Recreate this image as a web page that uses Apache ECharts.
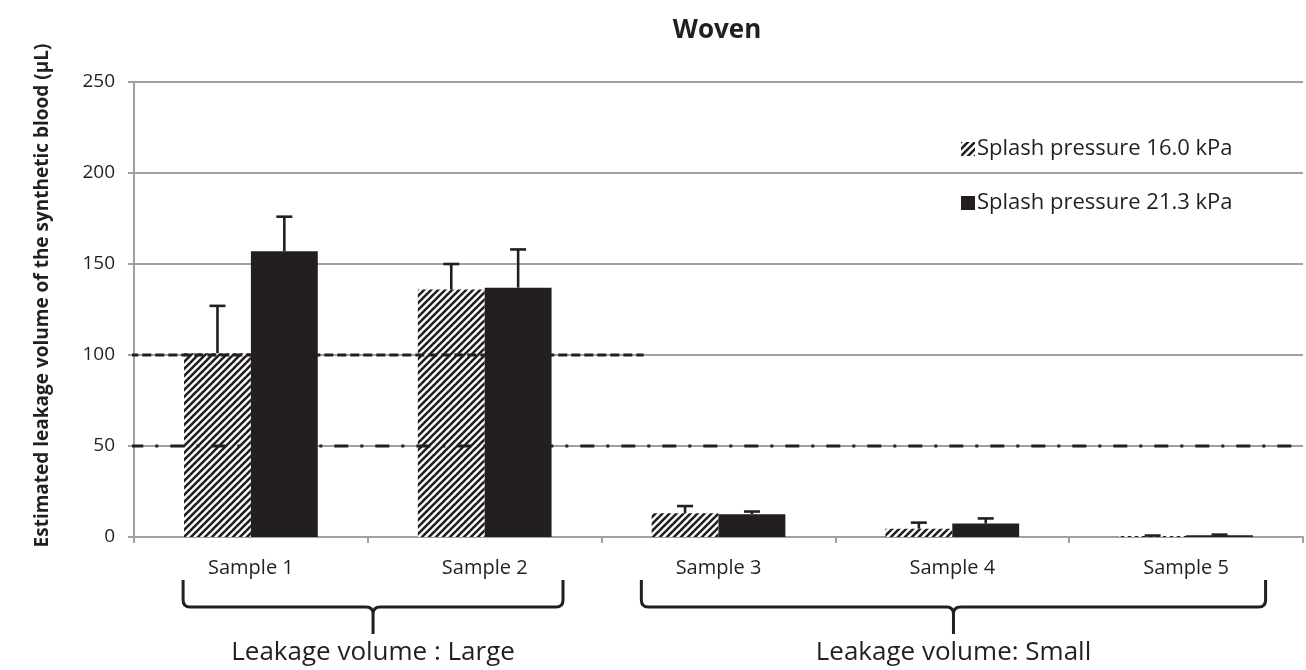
<!DOCTYPE html>
<html>
<head>
<meta charset="utf-8">
<script src="https://cdn.jsdelivr.net/npm/echarts@6/dist/echarts.min.js"></script>
<style>html,body{margin:0;padding:0;background:#fff;}#c{width:1306px;height:670px;}</style>
</head>
<body>
<div id="c"></div>
<script>
// ---- data ----
const categories = ['Sample 1', 'Sample 2', 'Sample 3', 'Sample 4', 'Sample 5'];
const seriesNames = ['Splash pressure 16.0 kPa', 'Splash pressure 21.3 kPa'];
const values16 = [101, 136, 13, 4.6, 0.5];
const errors16 = [26, 14, 4, 3.3, 0.3];
const values213 = [157, 137, 12.5, 7.4, 1.0];
const errors213 = [19, 21, 1.5, 2.8, 0.3];
const yTicks = [0, 50, 100, 150, 200, 250];
const refValues = [100, 50];
const refExtents = [[-0.52, 1.68], [-0.52, 4.47]];
const groupLabels = ['Leakage volume : Large', 'Leakage volume: Small'];
const groupSpans = [[-0.29, 1.335], [1.67, 4.34]];
const titleText = 'Woven';
const yName = 'Estimated leakage volume of the synthetic blood (\u03bcL)';

// ---- styling ----
const INK = '#231f20';
const GRID = '#a0a0a0';
const FONT = 'Open Sans';
const BAR_FRAC = 0.286;

function hatch() {
  const c = document.createElement('canvas');
  c.width = 7; c.height = 7;
  const ctx = c.getContext('2d');
  ctx.fillStyle = '#fff';
  ctx.fillRect(0, 0, 7, 7);
  ctx.strokeStyle = INK;
  ctx.lineWidth = 2.6;
  [-7, 0, 7].forEach(k => {
    ctx.beginPath();
    ctx.moveTo(k - 1, 8);
    ctx.lineTo(k + 8, -1);
    ctx.stroke();
  });
  return c;
}
const hatchFill = { image: hatch(), repeat: 'repeat' };

function errorSeries(values, errors, side) {
  return {
    type: 'custom',
    xAxisIndex: 0, yAxisIndex: 0,
    silent: true, z: 6,
    data: values.map((v, i) => [i, v, v + errors[i]]),
    renderItem: function (params, api) {
      const band = api.size([1, 0])[0];
      const off = side * band * BAR_FRAC / 2;
      const p0 = api.coord([api.value(0), api.value(1)]);
      const p1 = api.coord([api.value(0), api.value(2)]);
      const x = p0[0] + off;
      const st = { stroke: INK, lineWidth: 2.6 };
      return {
        type: 'group',
        children: [
          { type: 'line', shape: { x1: x, y1: p0[1], x2: x, y2: p1[1] }, style: st },
          { type: 'line', shape: { x1: x - 8, y1: p1[1], x2: x + 8, y2: p1[1] }, style: st }
        ]
      };
    }
  };
}

const refStyles = [
  { color: INK, width: 3, type: [9, 4] },
  { color: INK, width: 3, type: [14, 12, 3, 12] }
];

const refSeries = refValues.map((v, i) => ({
  type: 'line',
  xAxisIndex: 1, yAxisIndex: 0,
  silent: true, z: 5,
  symbol: 'none',
  lineStyle: refStyles[i],
  data: [[refExtents[i][0], v], [refExtents[i][1], v]]
}));

const bracketSeries = {
  type: 'custom',
  xAxisIndex: 1, yAxisIndex: 0,
  silent: true, clip: false, z: 7,
  data: groupSpans.map((s, i) => [s[0], s[1], i]),
  renderItem: function (params, api) {
    const a = api.coord([api.value(0), 0]);
    const b = api.coord([api.value(1), 0]);
    const i = api.value(2);
    const y0 = a[1];
    const xL = a[0], xR = b[0], xM = (xL + xR) / 2;
    const yT = y0 + 43, yH = y0 + 70, yTip = y0 + 97, r = 7;
    const d = 'M' + xL + ' ' + yT + ' L' + xL + ' ' + (yH - r) +
      ' Q' + xL + ' ' + yH + ' ' + (xL + r) + ' ' + yH +
      ' L' + (xM - r) + ' ' + yH +
      ' Q' + xM + ' ' + yH + ' ' + xM + ' ' + (yH + r) +
      ' L' + xM + ' ' + yTip +
      ' M' + xM + ' ' + (yH + r) +
      ' Q' + xM + ' ' + yH + ' ' + (xM + r) + ' ' + yH +
      ' L' + (xR - r) + ' ' + yH +
      ' Q' + xR + ' ' + yH + ' ' + xR + ' ' + (yH - r) +
      ' L' + xR + ' ' + yT;
    return {
      type: 'group',
      children: [
        { type: 'path', shape: { pathData: d }, style: { stroke: INK, lineWidth: 3, fill: null } },
        { type: 'text', x: xM, y: y0 + 116,
          style: { text: groupLabels[i], fill: INK, font: '26px "' + FONT + '"', align: 'center', verticalAlign: 'middle' } }
      ]
    };
  }
};

const chart = echarts.init(document.getElementById('c'), null, { renderer: 'canvas' });
chart.setOption({
  animation: false,
  backgroundColor: '#fff',
  title: {
    text: titleText, left: 712, top: 13, textAlign: 'center',
    textStyle: { fontFamily: FONT, fontWeight: 'bold', fontSize: 26, color: INK }
  },
  legend: {
    data: seriesNames,
    orient: 'vertical',
    left: 956, top: 133,
    itemWidth: 14, itemHeight: 14, itemGap: 32,
    icon: 'rect',
    textStyle: { fontFamily: FONT, fontSize: 22, color: INK, padding: [0, 0, 0, -3] }
  },
  grid: { left: 134, right: 3, top: 82, bottom: 133, containLabel: false },
  xAxis: [
    {
      type: 'category', data: categories, boundaryGap: true,
      axisLine: { show: true, lineStyle: { color: GRID, width: 2 } },
      axisTick: { show: true, alignWithLabel: false, length: 6, inside: false, lineStyle: { color: GRID, width: 2 } },
      axisLabel: { fontFamily: FONT, fontSize: 20, color: INK, margin: 21 },
      splitLine: { show: false }
    },
    { type: 'value', min: -0.5, max: 4.5, show: false }
  ],
  yAxis: {
    type: 'value', min: yTicks[0], max: yTicks[yTicks.length - 1], interval: yTicks[1] - yTicks[0],
    name: yName, nameLocation: 'middle', nameGap: 82, nameRotate: 90,
    nameTextStyle: { fontFamily: FONT, fontWeight: 'bold', fontSize: 19, color: INK, padding: [0, 0, 0, 28] },
    axisLine: { show: true, onZero: false, lineStyle: { color: GRID, width: 2 } },
    axisTick: { show: true, length: 6, lineStyle: { color: GRID, width: 2 } },
    axisLabel: { fontFamily: FONT, fontSize: 19, color: INK, margin: 19 },
    splitLine: { show: true, lineStyle: { color: GRID, width: 2 } }
  },
  series: [
    {
      name: seriesNames[0], type: 'bar', data: values16,
      barWidth: (BAR_FRAC * 100) + '%', barGap: '0%',
      itemStyle: { color: hatchFill }, z: 3
    },
    {
      name: seriesNames[1], type: 'bar', data: values213,
      barWidth: (BAR_FRAC * 100) + '%', barGap: '0%',
      itemStyle: { color: INK }, z: 3
    },
    errorSeries(values16, errors16, -1),
    errorSeries(values213, errors213, 1),
    ...refSeries,
    bracketSeries
  ]
});
</script>
</body>
</html>
